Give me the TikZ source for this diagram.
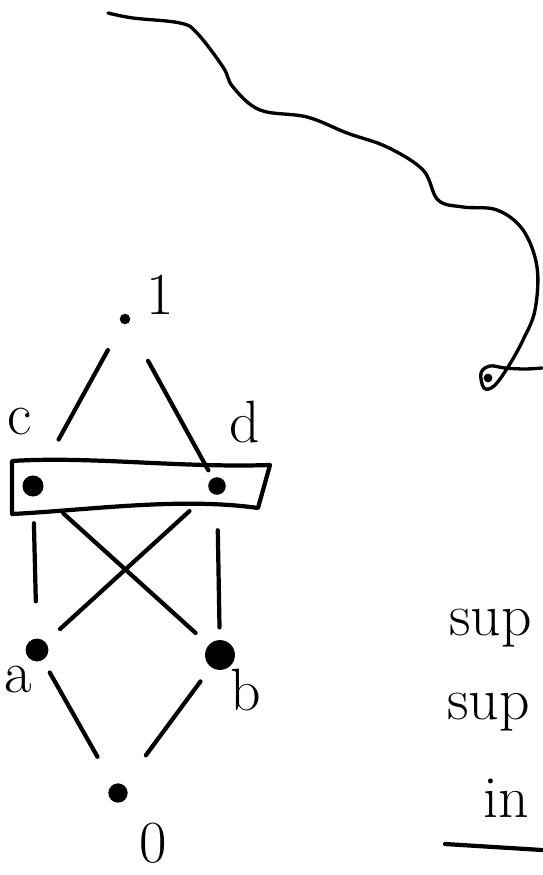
\documentclass[tikz,border=0pt]{standalone}
\usetikzlibrary{positioning}
\tikzset{
  pt/.style={circle,fill,inner sep=0pt,minimum size=#1},
  pt/.default=12pt,
  lbl/.style={font=\fontsize{34}{38}\selectfont},
  link/.style 2 args={shorten <=#1,shorten >=#2},
}
\begin{document}
\begin{tikzpicture}[x=.02cm,y=-.02cm,line width=2.4pt,line cap=round,line join=round]
\useasboundingbox (0,0) rectangle (542,875);
% lattice
\node[pt=6pt] (one) at (125,319) {};
\node[pt=12pt] (c) at (33,486) {};
\node[pt=10pt] (d) at (217,486) {};
\node[pt=13pt] (a) at (37,650) {};
\node[pt=17pt] (b) at (220,655) {};
\node[pt=11pt] (zero) at (118,793) {};
\node[lbl] (lone) at (160,295) {1};
\node[lbl] (lc) at (20,422) {c};
\node[lbl] (ld) at (245,422) {d};
\node[lbl] (la) at (18,680) {a};
\node[lbl] (lb) at (246,690) {b};
\node[lbl] (lzero) at (153,843) {0};
\draw[link={16pt}{23pt}] (one) -- (c);
\draw[link={23pt}{4pt}] (one) -- (d);
\draw[link={14pt}{20pt}] (c) -- (a);
\draw[link={16pt}{9pt}] (c) -- (b);
\draw[link={15pt}{10pt}] (d) -- (a);
\draw[link={19pt}{6pt}] (d) -- (b);
\draw[link={7pt}{17pt}] (a) -- (zero);
\draw[link={9pt}{20pt}] (b) -- (zero);
% box round c and d
\draw (12,461) .. controls (90,456) and (180,468) .. (270,465) -- (258,508)
  .. controls (180,497) and (90,510) .. (12,514) -- cycle;
% curve
\draw[line width=1.9pt] plot[smooth,tension=.6] coordinates {(108,13) (133,18) (180,23) (197,33) (223,67) (233,87) (260,110) (307,117) (347,133) (387,147) (423,170) (438,200) (463,207) (497,210) (523,230) (537,267) (535,310) (523,340) (508,367) (494,386) (484,388) (481,373) (490,366) (505,368) (525,369) (542,368)};
\fill (488,378) circle (2.5pt);
% right hand notes
\node[lbl,anchor=east] (supa) at (540,628) {sup};
\node[lbl,anchor=east] (supb) at (538,712) {sup};
\node[lbl,anchor=west] (inf) at (476,798) {in};
\coordinate (ul) at (445,844);
\draw (ul) -- (542,850);
\end{tikzpicture}
\end{document}
